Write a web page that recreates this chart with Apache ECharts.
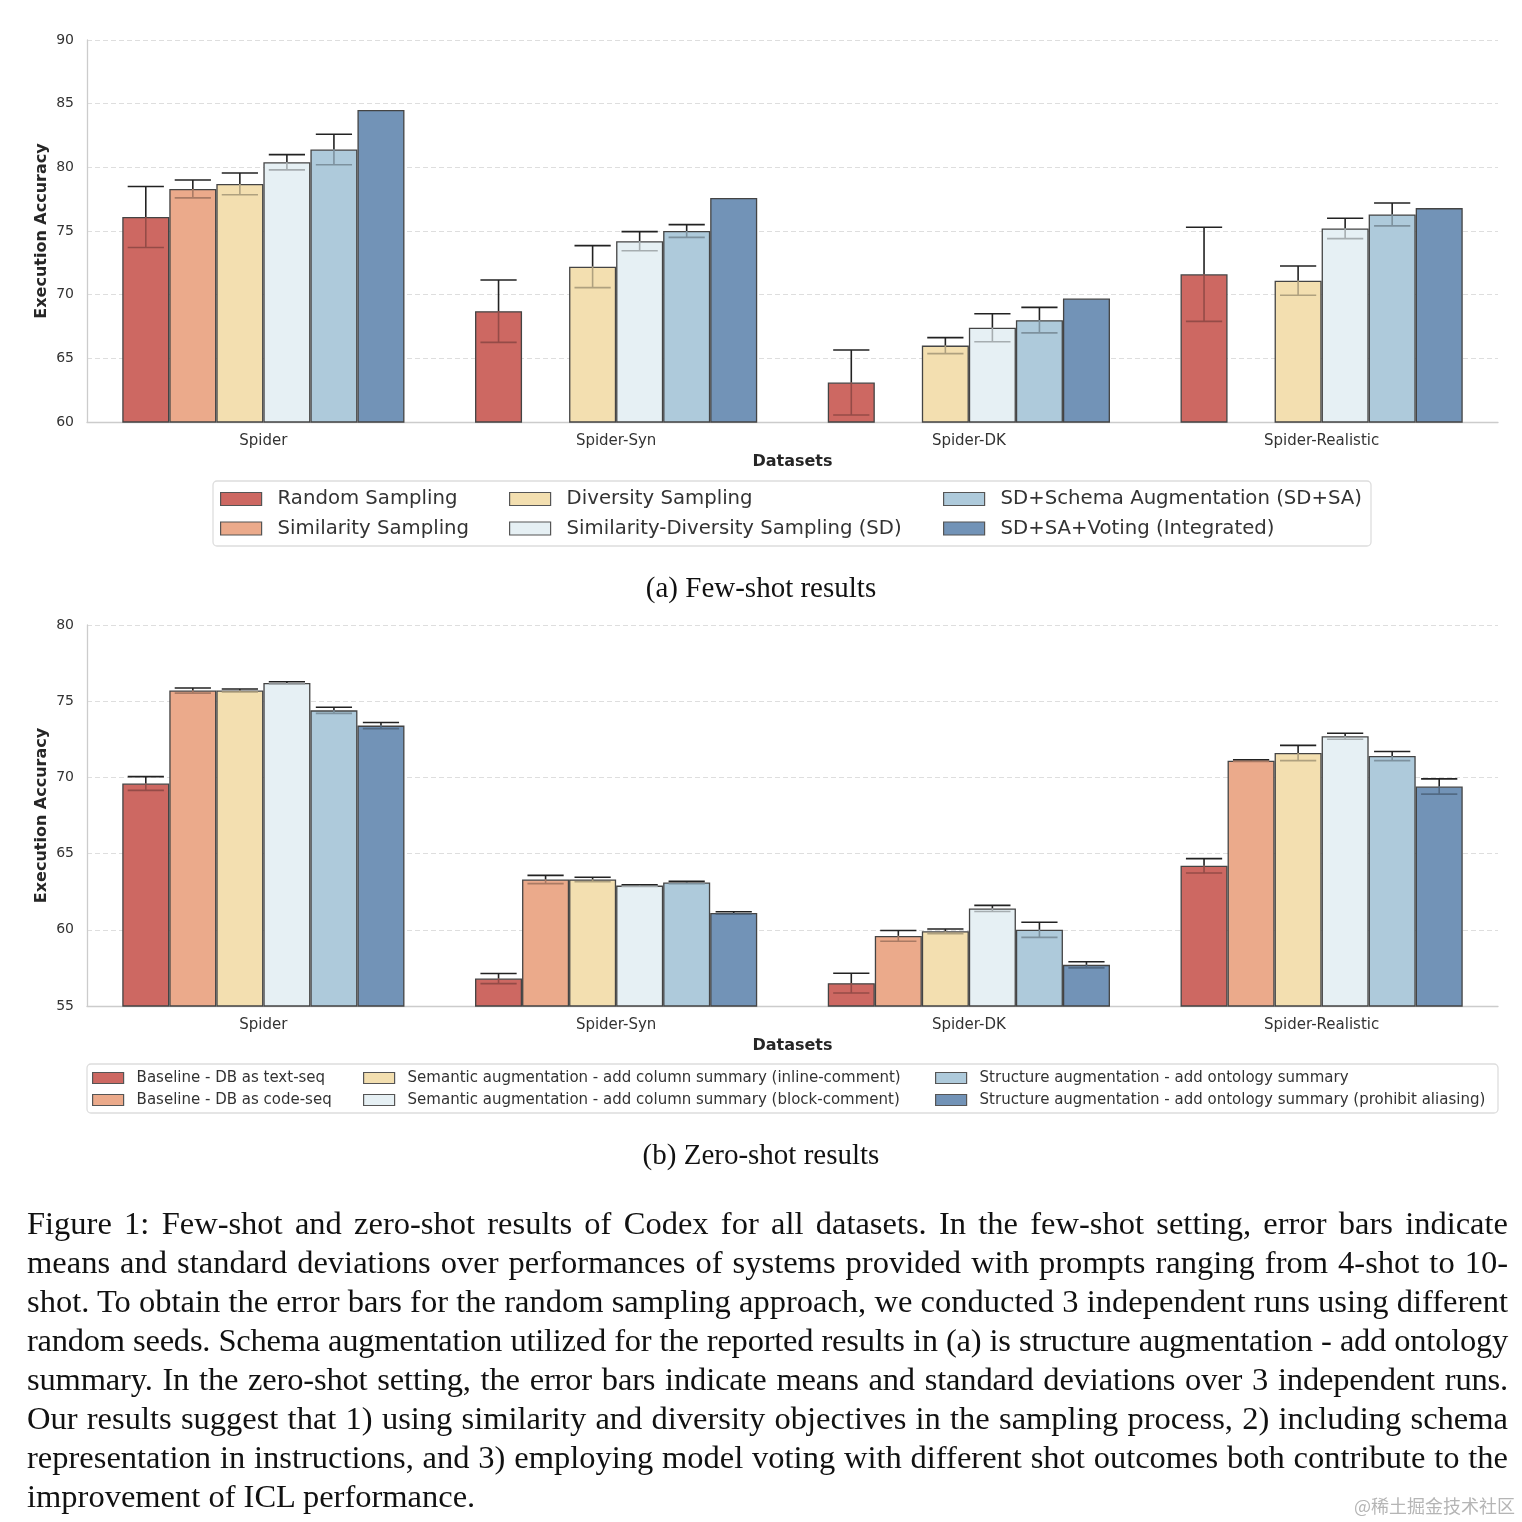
<!DOCTYPE html>
<html>
<head>
<meta charset="utf-8">
<script src="https://cdn.jsdelivr.net/npm/echarts@6/dist/echarts.min.js"></script>
<style>
html,body{margin:0;padding:0;background:#fff;width:1522px;height:1522px;overflow:hidden;}
#chart{position:absolute;left:0;top:0;width:1522px;height:1522px;}
.cap{position:absolute;left:0;width:1522px;text-align:center;font-family:"Liberation Serif","DejaVu Serif",serif;font-size:29px;color:#111;line-height:34px;}
#para{position:absolute;left:27px;top:1204px;width:1481px;font-family:"Liberation Serif",serif;font-size:32.5px;line-height:39px;color:#111;}
#para div{white-space:nowrap;text-align:justify;text-align-last:justify;}
#para div.tight{letter-spacing:-0.17px;}
#para div.tighter{letter-spacing:-0.24px;}
#para div.last{text-align-last:left;}
#wm{position:absolute;right:7px;top:1492px;font-family:"Noto Sans CJK SC",sans-serif;font-size:18px;color:#b5b5b5;}
</style>
</head>
<body>
<div id="chart"></div>
<div class="cap" style="top:570px">(a) Few-shot results</div>
<div class="cap" style="top:1137px">(b) Zero-shot results</div>
<div id="para">
<div>Figure 1: Few-shot and zero-shot results of Codex for all datasets. In the few-shot setting, error bars indicate</div>
<div>means and standard deviations over performances of systems provided with prompts ranging from 4-shot to 10-</div>
<div>shot. To obtain the error bars for the random sampling approach, we conducted 3 independent runs using different</div>
<div class="tighter">random seeds. Schema augmentation utilized for the reported results in (a) is structure augmentation - add ontology</div>
<div class="tight">summary. In the zero-shot setting, the error bars indicate means and standard deviations over 3 independent runs.</div>
<div>Our results suggest that 1) using similarity and diversity objectives in the sampling process, 2) including schema</div>
<div>representation in instructions, and 3) employing model voting with different shot outcomes both contribute to the</div>
<div class="last">improvement of ICL performance.</div>
</div>
<div id="wm">@稀土掘金技术社区</div>
<script>
// ---------- data ----------
const categories = ['Spider', 'Spider-Syn', 'Spider-DK', 'Spider-Realistic'];

// (a) few-shot
const fewNames = ['Random Sampling', 'Similarity Sampling', 'Diversity Sampling',
  'Similarity-Diversity Sampling (SD)', 'SD+Schema Augmentation (SD+SA)', 'SD+SA+Voting (Integrated)'];
const randomSampling = [76.1, 68.7, 63.1, 71.6];
const similaritySampling = [78.3, null, null, null];
const diversitySampling = [78.7, 72.2, 66.0, 71.1];
const sdSampling = [80.4, 74.2, 67.4, 75.2];
const sdSchema = [81.4, 75.0, 68.0, 76.3];
const sdVoting = [84.5, 77.6, 69.7, 76.8];
const randomStd = [2.4, 2.45, 2.55, 3.7];
const similarityStd = [0.7, null, null, null];
const diversityStd = [0.85, 1.65, 0.63, 1.15];
const sdStd = [0.6, 0.75, 1.1, 0.8];
const sdSchemaStd = [1.2, 0.5, 1.0, 0.9];
const sdVotingStd = [null, null, null, null];
const fewTicks = [60, 90, 5];

// (b) zero-shot
const zeroNames = ['Baseline - DB as text-seq', 'Baseline - DB as code-seq',
  'Semantic augmentation - add column summary (inline-comment)',
  'Semantic augmentation - add column summary (block-comment)',
  'Structure augmentation - add ontology summary',
  'Structure augmentation - add ontology summary (prohibit aliasing)'];
const textSeq = [69.6, 56.8, 56.5, 64.2];
const codeSeq = [75.7, 63.3, 59.6, 71.1];
const inlineComment = [75.7, 63.3, 59.9, 71.6];
const blockComment = [76.2, 62.9, 61.4, 72.7];
const ontology = [74.4, 63.1, 60.0, 71.4];
const prohibitAlias = [73.4, 61.1, 57.7, 69.4];
const textSeqStd = [0.45, 0.33, 0.65, 0.47];
const codeSeqStd = [0.17, 0.27, 0.35, 0.05];
const inlineStd = [0.1, 0.15, 0.15, 0.5];
const blockStd = [0.08, 0.05, 0.2, 0.2];
const ontologyStd = [0.2, 0.08, 0.5, 0.3];
const prohibitStd = [0.2, 0.08, 0.2, 0.5];
const zeroTicks = [55, 80, 5];

const colors = ['#CD6862', '#EBAA8B', '#F3DFB0', '#E6F0F4', '#AECADB', '#7293B7'];

// ---------- helpers ----------
function darken(hex, f) {
  const n = parseInt(hex.slice(1), 16);
  const r = Math.round(((n >> 16) & 255) * f), g = Math.round(((n >> 8) & 255) * f), b = Math.round((n & 255) * f);
  return 'rgb(' + r + ',' + g + ',' + b + ')';
}
const N = 6;
function errRender(idx, lowColor) {
  return function (params, api) {
    const ci = api.value(0), m = api.value(1), s = api.value(2);
    const band = api.size([1, 0])[0];
    const bw = band * 0.8 / N;
    const cx = api.coord([ci, m])[0] - band * 0.4 + bw * (idx + 0.5);
    const yTop = api.coord([ci, m + s])[1];
    const yMid = api.coord([ci, m])[1];
    const yBot = api.coord([ci, m - s])[1];
    const hw = bw * 0.385;
    const lw = 1.6;
    return {
      type: 'group', children: [
        { type: 'line', shape: { x1: cx, y1: yTop, x2: cx, y2: yMid }, style: { stroke: '#222', lineWidth: lw } },
        { type: 'line', shape: { x1: cx - hw, y1: yTop, x2: cx + hw, y2: yTop }, style: { stroke: '#222', lineWidth: lw } },
        { type: 'line', shape: { x1: cx, y1: yMid, x2: cx, y2: yBot }, style: { stroke: lowColor, lineWidth: lw } },
        { type: 'line', shape: { x1: cx - hw, y1: yBot, x2: cx + hw, y2: yBot }, style: { stroke: lowColor, lineWidth: lw } }
      ]
    };
  };
}

function buildSeries(names, means, stds, gi) {
  const out = [];
  names.forEach(function (nm, i) {
    out.push({
      name: nm, type: 'bar', xAxisIndex: gi, yAxisIndex: gi,
      barGap: '0%', barCategoryGap: '20%', z: 2,
      itemStyle: { color: colors[i], borderColor: '#444', borderWidth: 1.3 },
      emphasis: { disabled: true },
      data: means[i].map(function (v) { return v == null ? '-' : v; })
    });
    const ed = [];
    means[i].forEach(function (v, k) {
      if (v != null && stds[i][k] != null) ed.push([k, v, stds[i][k]]);
    });
    if (ed.length) {
      out.push({
        type: 'custom', xAxisIndex: gi, yAxisIndex: gi, z: 5, silent: true,
        renderItem: errRender(i, darken(colors[i], 0.72)),
        encode: { x: 0, y: 1 },
        data: ed
      });
    }
  });
  return out;
}

const fewMeans = [randomSampling, similaritySampling, diversitySampling, sdSampling, sdSchema, sdVoting];
const fewStds = [randomStd, similarityStd, diversityStd, sdStd, sdSchemaStd, sdVotingStd];
const zeroMeans = [textSeq, codeSeq, inlineComment, blockComment, ontology, prohibitAlias];
const zeroStds = [textSeqStd, codeSeqStd, inlineStd, blockStd, ontologyStd, prohibitStd];

const FONT = 'DejaVu Sans';
function xAxis(gi) {
  return {
    type: 'category', gridIndex: gi, data: categories,
    name: 'Datasets', nameLocation: 'middle', nameGap: 32,
    nameTextStyle: { fontFamily: FONT, fontSize: 16, fontWeight: 'bold', color: '#262626' },
    axisLine: { show: true, lineStyle: { color: '#cccccc', width: 1.3 } },
    axisTick: { show: false },
    axisLabel: { fontFamily: FONT, fontSize: 15, color: '#333', margin: 12 },
    splitLine: { show: false }
  };
}
function yAxis(gi, t) {
  return {
    type: 'value', gridIndex: gi, min: t[0], max: t[1], interval: t[2],
    name: 'Execution Accuracy', nameLocation: 'middle', nameGap: 37, nameMoveOverlap: false,
    nameTextStyle: { fontFamily: FONT, fontSize: 16, fontWeight: 'bold', color: '#262626' },
    axisLine: { show: true, lineStyle: { color: '#cccccc', width: 1.3 } },
    axisTick: { show: false },
    axisLabel: { fontFamily: FONT, fontSize: 14, color: '#333', margin: 13 },
    splitLine: { show: true, lineStyle: { color: '#dedede', type: [5, 3], width: 1 } }
  };
}
function legend(names, left, top, big) {
  return {
    orient: 'vertical', left: left, top: top, padding: 0,
    itemWidth: big ? 41 : 31, itemHeight: big ? 13 : 11, itemGap: big ? 9.5 : 7,
    icon: 'rect', selectedMode: false,
    textStyle: { fontFamily: FONT, fontSize: big ? 19.7 : 15, color: '#333', padding: [0, 0, 0, big ? 11 : 8] },
    itemStyle: { borderColor: '#555', borderWidth: 1.2 },
    data: names
  };
}

const option = {
  animation: false,
  backgroundColor: '#fff',
  grid: [
    { left: 87, top: 40, width: 1411, height: 382 },
    { left: 87, top: 625, width: 1411, height: 381 }
  ],
  xAxis: [xAxis(0), xAxis(1)],
  yAxis: [yAxis(0, fewTicks), yAxis(1, zeroTicks)],
  graphic: [
    { type: 'rect', z: 0, shape: { x: 213, y: 481, width: 1158, height: 65, r: 4 }, style: { fill: '#fff', stroke: '#dddddd', lineWidth: 1.3 } },
    { type: 'rect', z: 0, shape: { x: 87, y: 1064, width: 1411, height: 49, r: 4 }, style: { fill: '#fff', stroke: '#dddddd', lineWidth: 1.3 } }
  ],
  legend: [
    legend([fewNames[0], fewNames[1]], 220, 489, true),
    legend([fewNames[2], fewNames[3]], 509, 489, true),
    legend([fewNames[4], fewNames[5]], 943, 489, true),
    legend([zeroNames[0], zeroNames[1]], 92, 1070.5, false),
    legend([zeroNames[2], zeroNames[3]], 363, 1070.5, false),
    legend([zeroNames[4], zeroNames[5]], 935, 1070.5, false)
  ],
  series: buildSeries(fewNames, fewMeans, fewStds, 0).concat(buildSeries(zeroNames, zeroMeans, zeroStds, 1))
};

const chart = echarts.init(document.getElementById('chart'), null, { renderer: 'canvas' });
chart.setOption(option);
</script>
</body>
</html>
